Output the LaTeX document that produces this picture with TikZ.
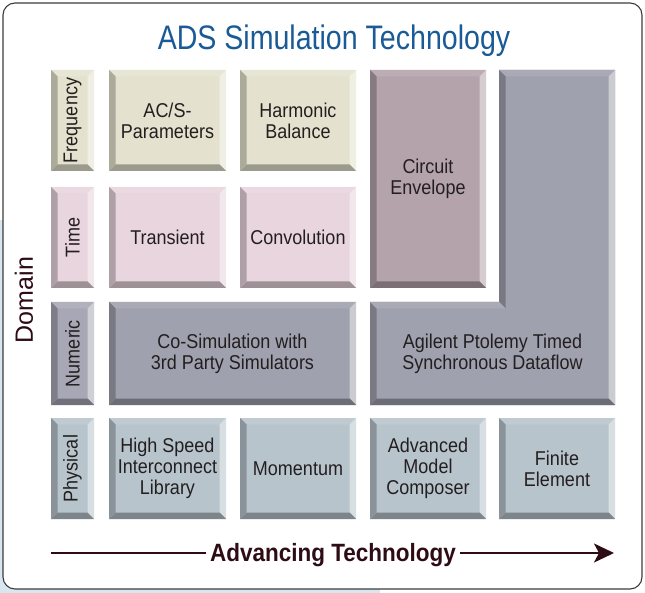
\documentclass[tikz,border=0pt]{standalone}
\usepackage{fontspec}
\setmainfont{Liberation Sans}
\newfontfamily\condfont[FakeStretch=0.9]{Liberation Sans}
\newfontfamily\titlefont[FakeStretch=0.84]{Liberation Sans}
\usetikzlibrary{arrows.meta}

\definecolor{titleblue}{RGB}{26,90,150}
\definecolor{maroon}{RGB}{45,12,22}
\definecolor{boxtext}{RGB}{35,31,32}
\definecolor{framegray}{RGB}{60,60,60}
\definecolor{bgblue}{RGB}{216,230,239}
\definecolor{freqc}{RGB}{228,226,206}
\definecolor{timec}{RGB}{232,213,221}
\definecolor{envc}{RGB}{181,163,172}
\definecolor{numc}{RGB}{160,161,174}
\definecolor{numlab}{RGB}{168,167,181}
\definecolor{physc}{RGB}{184,196,204}

\newcommand\bevw{6.5}
\newcommand\bevel[2]{%
  \fill[#2!90!white] (#1.north west) -- (#1.north east) -- ([shift={(-\bevw,-\bevw)}]#1.north east) -- ([shift={(\bevw,-\bevw)}]#1.north west) -- cycle;
  \fill[#2!55!white] (#1.north east) -- (#1.south east) -- ([shift={(-\bevw,\bevw)}]#1.south east) -- ([shift={(-\bevw,-\bevw)}]#1.north east) -- cycle;
  \fill[#2!68!black] (#1.south east) -- (#1.south west) -- ([shift={(\bevw,\bevw)}]#1.south west) -- ([shift={(-\bevw,\bevw)}]#1.south east) -- cycle;
  \fill[#2!75!black] (#1.south west) -- (#1.north west) -- ([shift={(\bevw,-\bevw)}]#1.north west) -- ([shift={(\bevw,\bevw)}]#1.south west) -- cycle;
}

\begin{document}
\begin{tikzpicture}[x=1pt,y=1pt,
   cell/.style={inner sep=0pt,outer sep=0pt,align=center,text=boxtext,
     font=\condfont\fontsize{20}{21}\selectfont,minimum width=116,minimum height=101},
   rowlabel/.style={cell,minimum width=43},
   arrowline/.style={draw=maroon,line width=2pt}]

\useasboundingbox (0,0) rectangle (645,-593);
\fill[bgblue] (0,-220) rectangle (380,-593);
\draw[framegray,fill=white,line width=1.1pt,rounded corners=12] (3,-3) rectangle (642,-589);

\node[text=titleblue,font=\titlefont\fontsize{34}{40}\selectfont,anchor=base] (title) at (334,-50) {ADS Simulation Technology};
\node[text=maroon,font=\fontsize{25}{30}\selectfont,rotate=90] (domain) at (24,-300) {Domain};

% L-shaped block
\fill[numc] (370,-302) -- (499,-302) -- (499,-70) -- (615,-70) -- (615,-405) -- (370,-405) -- cycle;
\fill[numc!90!white] (499,-70) -- (615,-70) -- (608.5,-76.5) -- (505.5,-76.5) -- cycle;
\fill[numc!55!white] (615,-70) -- (615,-405) -- (608.5,-398.5) -- (608.5,-76.5) -- cycle;
\fill[numc!68!black] (370,-405) -- (615,-405) -- (608.5,-398.5) -- (376.5,-398.5) -- cycle;
\fill[numc!75!black] (370,-302) -- (370,-405) -- (376.5,-398.5) -- (376.5,-308.5) -- cycle;
\fill[numc!75!black] (499,-70) -- (499,-302) -- (505.5,-308.5) -- (505.5,-76.5) -- cycle;
\fill[numc!90!white] (370,-302) -- (499,-302) -- (505.5,-308.5) -- (376.5,-308.5) -- cycle;
\node[cell,minimum width=245,minimum height=103] (ptolemy) at (492.5,-353.5) {Agilent Ptolemy Timed\\Synchronous Dataflow};

\node[rowlabel,fill=freqc] (freq) at (72.5,-120.5) {\rotatebox{90}{Frequency}};
\node[rowlabel,fill=timec] (time) at (72.5,-237.5) {\rotatebox{90}{Time}};
\node[rowlabel,fill=numlab,minimum height=103] (numeric) at (72.5,-353.5) {\rotatebox{90}{Numeric}};
\node[rowlabel,fill=physc] (physical) at (72.5,-468.5) {\rotatebox{90}{Physical}};

\node[cell,fill=freqc,minimum width=117] (acs) at (167.5,-120.5) {AC/S-\\Parameters};
\node[cell,fill=freqc] (hb) at (298,-120.5) {Harmonic\\Balance};
\node[cell,fill=envc,minimum height=218] (envelope) at (428,-179) {Circuit\\Envelope};
\node[cell,fill=timec,minimum width=117] (transient) at (167.5,-237.5) {Transient};
\node[cell,fill=timec] (convolution) at (298,-237.5) {Convolution};
\node[cell,fill=numc,minimum width=247,minimum height=103] (cosim) at (232.5,-353.5) {Co-Simulation with\\3rd Party Simulators};
\node[cell,fill=physc,minimum width=117] (hsil) at (167.5,-468.5) {High Speed\\Interconnect\\Library};
\node[cell,fill=physc] (momentum) at (298,-468.5) {Momentum};
\node[cell,fill=physc] (amc) at (428,-468.5) {Advanced\\Model\\Composer};
\node[cell,fill=physc] (fem) at (557,-468.5) {Finite\\Element};

\foreach \n/\c in {freq/freqc,time/timec,numeric/numlab,physical/physc,acs/freqc,hb/freqc,
    envelope/envc,transient/timec,convolution/timec,cosim/numc,hsil/physc,momentum/physc,amc/physc,fem/physc}
  {\bevel{\n}{\c}}

\node[text=maroon,font=\condfont\bfseries\fontsize{25}{30}\selectfont,anchor=base,inner xsep=4pt] (advancing) at (333,-561) {Advancing Technology};
\coordinate (arrstart) at (51,-553);
\coordinate (arrend) at (614,-553);
\draw[arrowline] (arrstart) -- (arrstart -| advancing.west);
\draw[arrowline,-{Stealth[length=20pt,width=19pt,inset=5pt]}] (arrstart -| advancing.east) -- (arrend);

\end{tikzpicture}
\end{document}
